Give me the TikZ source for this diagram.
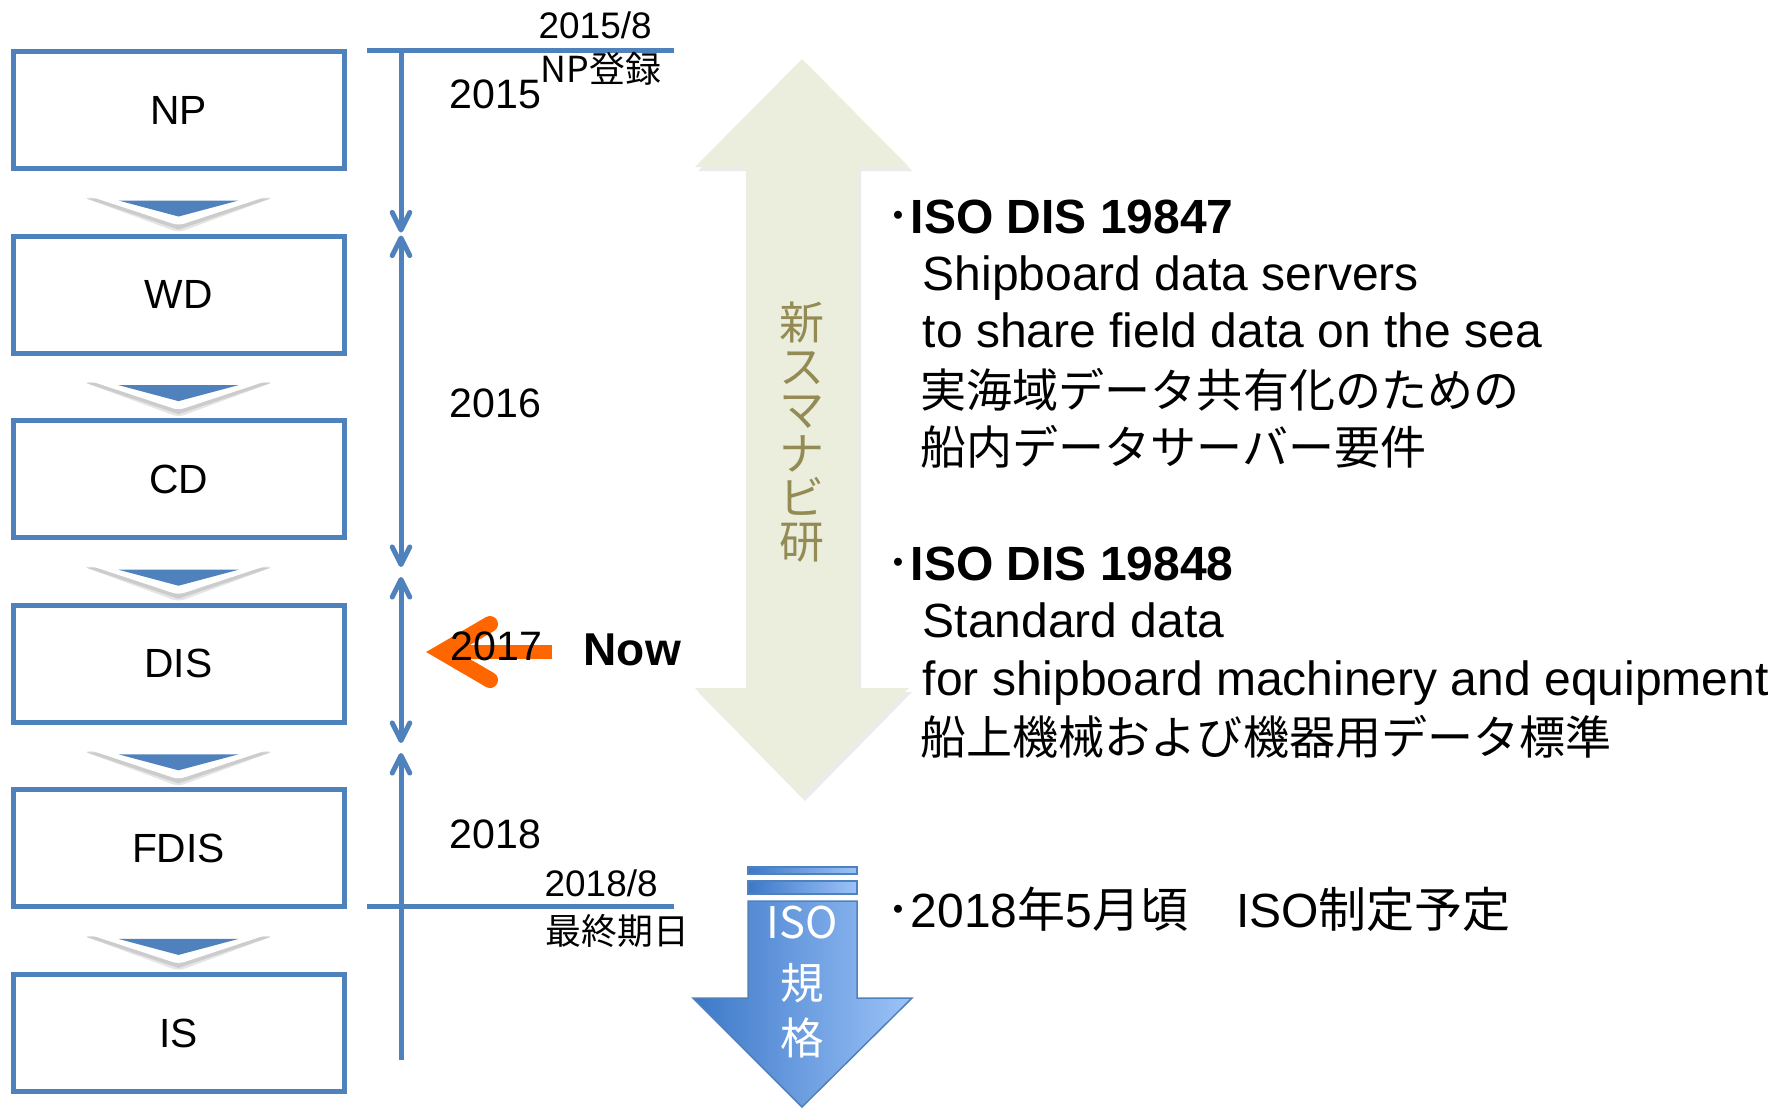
\documentclass[tikz,border=0pt]{standalone}
\usepackage{fontspec}
\setmainfont{Liberation Sans}
\newfontfamily\jp{Noto Sans CJK JP}
\usetikzlibrary{arrows.meta,calc}
\definecolor{4f81bd}{HTML}{4F81BD}
\definecolor{ff6600}{HTML}{FF6600}
\definecolor{948a54}{HTML}{948A54}
\definecolor{ebeedd}{HTML}{EBEEDD}
\definecolor{3c78c8}{HTML}{3C78C8}
\definecolor{9cc3f8}{HTML}{9CC3F8}

\begin{document}
\begin{tikzpicture}[x=0.1mm,y=-0.1mm,>={Straight Barb[length=5pt,width=5pt,round]},
    stagebox/.style={draw=4f81bd,line width=.5mm,fill=white,minimum width=33.1mm,minimum height=11.7mm,inner sep=0,font=\fontsize{11.6}{13}\selectfont},
    timeline/.style={4f81bd,line width=.5mm},
    yearlbl/.style={anchor=base west,inner sep=0,font=\fontsize{11.7}{14}\selectfont},
    datelbl/.style={anchor=base west,inner sep=0,font=\fontsize{10.5}{12}\selectfont},
    jplbl/.style={anchor=base west,inner sep=0,font=\jp\fontsize{10.2}{12}\selectfont},
    infoline/.style={anchor=base west,inner sep=0,font=\fontsize{13.66}{16}\selectfont},
    jpline/.style={anchor=base west,inner sep=0,font=\jp\fontsize{13.1}{16}\selectfont}]
    \newcommand{\GAP}{184.6}
    \useasboundingbox(0,0)rectangle(1777,1109);
    % stages
    \foreach \lab [count=\i from 0] in {NP,WD,CD,DIS,FDIS,IS}
        \node[stagebox](s\i)at(178.5,{110+\GAP*\i}){\lab};
    % chevrons between the stages
    \foreach \i in {0,...,4}{
        \coordinate(v\i)at($(s\i.south)+(0,23.5)$);
        \fill[black!10,rounded corners=.6mm]($(v\i)+(-95,3)$)--($(v\i)+(95,3)$)--($(v\i)+(0,38)$)--cycle;
        \fill[black!20]($(v\i)+(-92,4)$)--($(v\i)+(92,4)$)--($(v\i)+(0,35)$)--cycle;
        \fill[white,rounded corners=.6mm]($(v\i)+(-94,0)$)--($(v\i)+(94,0)$)--($(v\i)+(0,31)$)--cycle;
        \fill[4f81bd]($(v\i)+(-60,6)$)--($(v\i)+(60,6)$)--($(v\i)+(0,22)$)--cycle;
    }
    % time line
    \coordinate(t0)at(401,50);
    \coordinate(m1)at(401,234);
    \coordinate(m2)at(401,572);
    \coordinate(m3)at(401,748);
    \coordinate(tend)at(401,1060);
    \coordinate(h1a)at(367,50);
    \coordinate(h1b)at(674,50);
    \coordinate(h2a)at(367,906);
    \coordinate(h2b)at(674,906);
    \draw[timeline](h1a)--(h1b);
    \draw[timeline](h2a)--(h2b);
    \draw[timeline,->,shorten >=.15mm](t0)--(m1);
    \draw[timeline,<->,shorten <=.15mm,shorten >=.5mm](m1)--(m2);
    \draw[timeline,<->,shorten <=.5mm,shorten >=.5mm](m2)--(m3);
    \draw[timeline,<-,shorten <=.5mm](m3)--(tend);
    % now marker
    \coordinate(ntail)at(552,652);
    \coordinate(ntip)at(442,652);
    \draw[ff6600,line width=1.4mm](ntail)--(ntip);
    \draw[ff6600,line width=1.6mm,line cap=round]($(ntip)+(48,-28)$)--(ntip)--($(ntip)+(48,28)$);
    % dates and years
    \node[datelbl](d15)at(538,38){2015/8};
    \node[jplbl](np15)at(540,82){NP登録};
    \node[yearlbl](y15)at(449,108){2015};
    \node[yearlbl](y16)at(449,417){2016};
    \node[yearlbl](y17)at(450,660){2017};
    \node[yearlbl](y18)at(449,848){2018};
    \node[datelbl](d18)at(544,896){2018/8};
    \node[jplbl](end18)at(545,944){最終期日};
    \node[infoline,font=\bfseries\fontsize{13.1}{15}\selectfont](now)at(583,665){Now};
    % research period
    \fill[black!8](805,63)--(912,171)--(861,171)--(861,692)--(912,692)--(805,801)--(698,692)--(749,692)--(749,171)--(698,171)--cycle;
    \fill[ebeedd](802,59)--(909,167)--(858,167)--(858,688)--(909,688)--(802,797)--(695,688)--(746,688)--(746,167)--(695,167)--cycle;
    \node[948a54,align=center,inner sep=0,font=\jp\fontsize{12.8}{12.5}\selectfont](nsn)at(802,432){新\\ス\\マ\\ナ\\ビ\\研};
    % ISO standard
    \shade[left color=3c78c8,right color=9cc3f8,draw=4f81bd,line width=.15mm](748,867)rectangle(857,874);
    \shade[left color=3c78c8,right color=9cc3f8,draw=4f81bd,line width=.15mm](748,881)rectangle(857,894);
    \shade[left color=3c78c8,right color=9cc3f8,draw=4f81bd,line width=.15mm](748,901)--(857,901)--(857,998)--(912,998)--(802,1107)--(693,998)--(748,998)--cycle;
    \node[white,inner sep=0,font=\jp\fontsize{12.4}{14}\selectfont](iso)at(802,922){ISO};
    \node[white,align=center,inner sep=0,font=\jp\fontsize{12.4}{15.6}\selectfont](kikaku)at(802,1011){規\\格};
    % ISO DIS 19847
    \node[infoline](a1)at(886,233){{\jp ･}\textbf{ISO DIS 19847}};
    \node[infoline](a2)at(922,290){Shipboard data servers};
    \node[infoline](a3)at(922,347){to share field data on the sea};
    \node[jpline](a4)at(920,407){実海域データ共有化のための};
    \node[jpline](a5)at(920,464){船内データサーバー要件};
    % ISO DIS 19848
    \node[infoline](b1)at(886,580){{\jp ･}\textbf{ISO DIS 19848}};
    \node[infoline](b2)at(922,637){Standard data};
    \node[infoline](b3)at(922,695){for shipboard machinery and equipment};
    \node[jpline](b4)at(920,754){船上機械および機器用データ標準};
    % schedule
    \node[infoline](c1)at(886,927){{\jp ･}2018{\jp 年}5{\jp 月頃　}ISO{\jp 制定予定}};
\end{tikzpicture}
\end{document}
